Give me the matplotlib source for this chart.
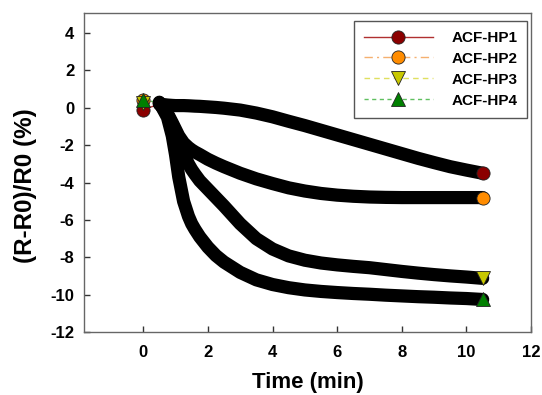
import matplotlib
matplotlib.use("Agg")
import matplotlib.pyplot as plt
from matplotlib.lines import Line2D

plt.rcParams["font.family"] = ["Liberation Sans", "DejaVu Sans"]
plt.rcParams["font.weight"] = "bold"
plt.rcParams["axes.unicode_minus"] = False

# time (min)
time = [0, 0.5, 0.75, 0.9, 1.0, 1.1, 1.25, 1.4, 1.5, 1.6, 1.75, 2.0, 2.25, 2.5, 3.0,
        3.5, 4.0, 4.5, 5.0, 5.5, 6.0, 6.5, 7.0, 7.5, 8.0, 8.5, 9.0, 9.5, 10.0, 10.5]

# (R-R0)/R0 (%)
hp1 = [-0.1, 0.2, 0.15, 0.13, 0.12, 0.12, 0.12, 0.11, 0.1, 0.09, 0.08, 0.05, 0.02,
       -0.02, -0.12, -0.28, -0.48, -0.72, -0.95, -1.2, -1.45, -1.7, -1.95, -2.2,
       -2.45, -2.7, -2.93, -3.15, -3.33, -3.5]
hp2 = [0.4, 0.25, -0.3, -0.8, -1.15, -1.5, -1.88, -2.12, -2.25, -2.36, -2.5, -2.75,
       -2.96, -3.15, -3.5, -3.8, -4.05, -4.28, -4.45, -4.58, -4.67, -4.73, -4.77,
       -4.79, -4.8, -4.8, -4.8, -4.8, -4.8, -4.8]
hp3 = [0.25, 0.25, -0.35, -0.9, -1.3, -1.8, -2.45, -3.0, -3.3, -3.55, -3.9, -4.35,
       -4.8, -5.25, -6.2, -7.0, -7.55, -7.92, -8.15, -8.3, -8.4, -8.48, -8.55, -8.65,
       -8.75, -8.84, -8.92, -8.99, -9.05, -9.12]
hp4 = [0.4, 0.3, -0.5, -1.5, -2.5, -3.7, -5.0, -5.8, -6.2, -6.5, -6.9, -7.45, -7.9,
       -8.25, -8.8, -9.2, -9.45, -9.62, -9.74, -9.82, -9.88, -9.93, -9.97, -10.02,
       -10.06, -10.1, -10.13, -10.17, -10.2, -10.25]

labels = ["ACF-HP1", "ACF-HP2", "ACF-HP3", "ACF-HP4"]
series = [hp1, hp2, hp3, hp4]
fills = ["#8b0000", "#ff8c00", "#c8c800", "#008000"]
lines = ["#b03030", "#f5b070", "#e0e060", "#60c060"]
markers = ["o", "o", "v", "^"]
dashes = [None, (6, 3, 1.5, 3), (4, 3), (3, 2.5)]

fig = plt.figure(figsize=(5.42, 3.95), dpi=100)
ax = fig.add_axes([0.155, 0.159, 0.825, 0.808])

handles = []
for y, lab, fc, lc, m, d in zip(series, labels, fills, lines, markers, dashes):
    ls = "-" if d is None else (0, d)
    # thin connecting line
    ax.plot(time, y, color=lc, lw=1, linestyle=ls, zorder=2)
    # dense symbols overlapping into a black band
    ax.plot(time[1:], y[1:], color="black", lw=9.5, solid_capstyle="round",
            solid_joinstyle="round", zorder=3)
    # first and last symbols
    ax.plot([time[0], time[-1]], [y[0], y[-1]], linestyle="none", marker=m,
            markersize=9.5, markerfacecolor=fc, markeredgecolor="#222222",
            markeredgewidth=0.6, zorder=4)
    handles.append(Line2D([], [], color=lc, lw=1, linestyle=ls, marker=m,
                          markersize=9.5, markerfacecolor=fc,
                          markeredgecolor="#222222", markeredgewidth=0.6))

ax.set_xlim(-1.83, 12)
ax.set_ylim(-12, 5.07)
ax.set_xticks(range(0, 13, 2))
ax.set_yticks(range(-12, 5, 2))
ax.tick_params(direction="in", length=4, width=1, labelsize=12, color="#333333",
               top=False, right=False)
ax.tick_params(axis="x", pad=9)
ax.tick_params(axis="y", pad=7)
for lab in ax.get_xticklabels() + ax.get_yticklabels():
    lab.set_fontweight("bold")
for sp in ax.spines.values():
    sp.set_color("#666666")
    sp.set_linewidth(1)

ax.set_xlabel("Time (min)", fontsize=16, fontweight="bold", labelpad=9)
ax.set_ylabel("(R-R0)/R0 (%)", fontsize=17.5, fontweight="bold")
ax.yaxis.set_label_coords(-0.105, 0.46)

leg = ax.legend(handles, labels, loc="upper right", bbox_to_anchor=(0.991, 0.975),
                fancybox=False, edgecolor="#555555", framealpha=1,
                prop={"weight": "bold", "size": 11}, handlelength=4.5,
                labelspacing=0.45, borderpad=0.65, handletextpad=1.2,
                borderaxespad=0)
leg.get_frame().set_linewidth(1)

fig.savefig("out.png", dpi=100)
